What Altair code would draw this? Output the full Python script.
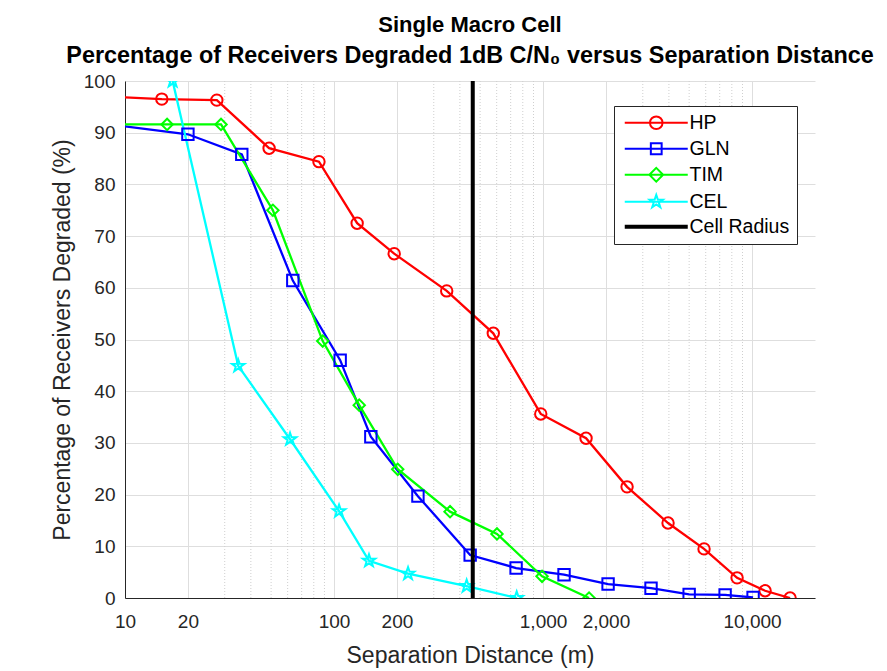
import math
import altair as alt
import pandas as pd

# ---------------- data ----------------
series_names = ["HP", "GLN", "TIM", "CEL"]
legend_names = ["HP", "GLN", "TIM", "CEL", "Cell Radius"]
colors = ["#ff0000", "#0000ff", "#00ff00", "#00ffff", "#000000"]

hp_dist = [8, 15, 27.5, 48.9, 84.7, 129, 194, 346, 578, 975, 1606, 2523, 3963, 5891, 8476, 11540, 15200]
hp_pct = [97.0, 96.5, 96.3, 87.0, 84.4, 72.5, 66.6, 59.4, 51.2, 35.6, 30.9, 21.5, 14.5, 9.5, 3.9, 1.4, 0.0]

gln_dist = [8, 20, 36.2, 63.5, 107, 150, 252, 448, 743, 1260, 2047, 3285, 5000, 7430, 10110]
gln_pct = [91.7, 89.7, 85.8, 61.4, 46.0, 31.2, 19.7, 8.3, 5.8, 4.5, 2.7, 1.9, 0.7, 0.6, 0.1]

tim_dist = [8, 15.9, 28.8, 51, 88.3, 132, 201.7, 359, 602, 989, 1660]
tim_pct = [91.6, 91.6, 91.6, 75.0, 49.7, 37.3, 24.9, 16.7, 12.4, 4.2, 0.0]

cel_dist = [16.9, 34.8, 61.6, 105.7, 147, 226, 431, 748]
cel_pct = [100.0, 44.9, 30.7, 16.8, 7.2, 4.7, 2.3, 0.0]

cell_radius = [461]

x_ticks = [10, 20, 100, 200, 1000, 2000, 10000]
x_minor = [30, 40, 50, 60, 70, 80, 90, 300, 400, 500, 600, 700, 800, 900,
           3000, 4000, 5000, 6000, 7000, 8000, 9000]
y_ticks = [0, 10, 20, 30, 40, 50, 60, 70, 80, 90, 100]

rows = []
for name, ds, ps in zip(series_names, [hp_dist, gln_dist, tim_dist, cel_dist],
                        [hp_pct, gln_pct, tim_pct, cel_pct]):
    for d, p in zip(ds, ps):
        rows.append({"series": name, "dist": d, "pct": p})
df = pd.DataFrame(rows)

# ---------------- styling ----------------
FONT = "Liberation Sans"
GRID = "#dedede"
AX = "#262626"

xscale = alt.Scale(type="log", domain=[10, 20000], nice=False)
yscale = alt.Scale(domain=[0, 100], nice=False, zero=False)

x_axis = alt.Axis(values=x_ticks, format=",", title="Separation Distance (m)",
                  grid=True, gridColor=GRID, ticks=False, labelFontSize=19,
                  labelFont=FONT, labelColor=AX, labelPadding=14, titleFont=FONT,
                  titleFontSize=23, titleFontWeight="normal", titleColor=AX,
                  titlePadding=13, domainColor=AX, labelFlush=False)
y_axis = alt.Axis(values=y_ticks, title="Percentage of Receivers Degraded (%)",
                  grid=True, gridColor=GRID, ticks=False, labelFontSize=19,
                  labelFont=FONT, labelColor=AX, labelPadding=10, titleFont=FONT,
                  titleFontSize=23, titleFontWeight="normal", titleColor=AX,
                  titlePadding=9, domainColor=AX)

X = alt.X("dist:Q", scale=xscale, axis=x_axis)
Y = alt.Y("pct:Q", scale=yscale, axis=y_axis)


def star_path(c=0.0, R=1.0, r=0.42):
    pts = []
    for k in range(10):
        a = math.radians(-90 + 36 * k)
        rad = R if k % 2 == 0 else r
        pts.append(f"{c + rad * math.cos(a):.3f},{rad * math.sin(a):.3f}")
    return "M" + "L".join(pts) + "Z"


# legend symbols: line with marker in the middle (units of 6px)
cx = 4.25
line = "M-1,0L9.5,0"
legend_paths = [
    line + f"M{cx+1.05},0A1.05,1.05 0 1 1 {cx-1.05},0A1.05,1.05 0 1 1 {cx+1.05},0",
    line + f"M{cx-0.9},-0.9L{cx+0.9},-0.9L{cx+0.9},0.9L{cx-0.9},0.9Z",
    line + f"M{cx},-1.15L{cx+1.15},0L{cx},1.15L{cx-1.15},0Z",
    line + star_path(cx, 1.15, 0.45),
    "M-1,-0.17L9.5,-0.17M-1,0.17L9.5,0.17",
]
marker_shapes = ["circle", "square", "diamond", star_path(0, 1.15, 0.45)]

leg = alt.Legend(title=None, orient="none", legendX=489, legendY=25,
                 symbolSize=144, symbolStrokeWidth=2, labelFontSize=19.5,
                 labelFont=FONT, labelColor="#000000", labelOffset=49,
                 rowPadding=4, padding=7, strokeColor=AX, fillColor="white",
                 labelLimit=300, cornerRadius=0)

color = alt.Color("series:N", scale=alt.Scale(domain=legend_names, range=colors), legend=leg)

# ---------------- layers ----------------
minor = alt.Chart(pd.DataFrame({"dist": x_minor})).mark_rule(
    color="#cfcfcf", strokeDash=[1, 2], strokeWidth=1
).encode(x=X)

lines = alt.Chart(df).mark_line(strokeWidth=2.3, clip=True).encode(x=X, y=Y, color=color)

marker_layers = []
for name, shp in zip(series_names, marker_shapes):
    marker_layers.append(
        alt.Chart(df).transform_filter(alt.datum.series == name).mark_point(
            filled=False, strokeWidth=2, size=130, opacity=1, clip=True, shape=shp
        ).encode(x=X, y=Y, color=color)
    )

radius = alt.Chart(pd.DataFrame({"dist": cell_radius})).mark_rule(
    color="black", strokeWidth=4
).encode(x=X)

legend_layer = alt.Chart(pd.DataFrame({"series": legend_names})).mark_point(
    filled=False, size=0, strokeWidth=2, opacity=1
).encode(
    shape=alt.Shape("series:N", scale=alt.Scale(domain=legend_names, range=legend_paths), legend=leg),
    color=color,
)

chart = alt.layer(minor, lines, *marker_layers, radius, legend_layer).properties(
    width=690, height=517,
    title=alt.Title(
        "Single Macro Cell",
        subtitle="Percentage of Receivers Degraded 1dB C/N\u2080 versus Separation Distance",
        font=FONT, fontSize=22, fontWeight="bold", color="#000000",
        subtitleFont=FONT, subtitleFontSize=23.4, subtitleFontWeight="bold",
        subtitleColor="#000000", subtitlePadding=8,
        anchor="middle", offset=4,
    ),
    autosize=alt.AutoSizeParams(type="none"),
    padding={"left": 125, "top": 81, "right": 72, "bottom": 73},
    background="white",
).configure_view(stroke=None)

chart.save("out.html", embed_options={"renderer": "svg", "actions": False})
